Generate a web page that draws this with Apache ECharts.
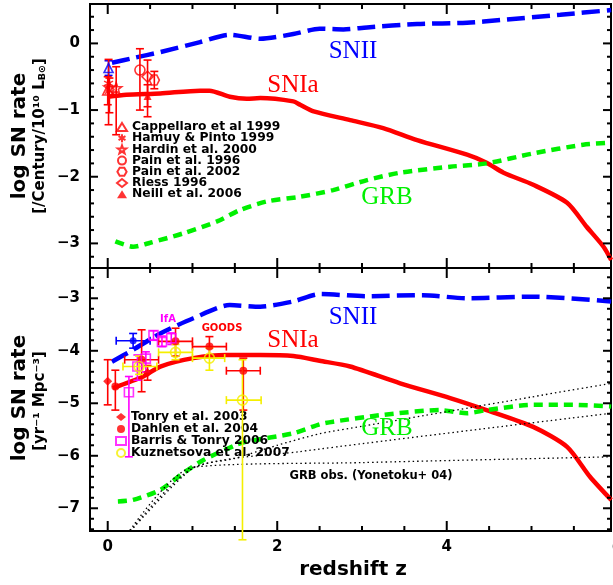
<!DOCTYPE html>
<html>
<head>
<meta charset="utf-8"/>
<title>SN rate vs redshift</title>
<style>
    html, body { margin: 0; padding: 0; background: #fff; }
    #chart { width: 613px; height: 585px; }
</style>
<script src="https://cdn.jsdelivr.net/npm/echarts@6/dist/echarts.min.js"></script>
</head>
<body>
<div id="chart"></div>
<script>
    // axis ranges
    var zMin = -0.209, zMax = 5.938;
    var topMin = -3.369, topMax = 0.591;
    var botMin = -7.433, botMax = -2.423;

    // tick positions
    var zMajor = [0, 2, 4];
    var zMinor = [0.5, 1, 1.5, 2.5, 3, 3.5, 4.5, 5, 5.5];
    var topMajor = [-3, -2, -1, 0];
    var topMinor = [-3.2, -2.8, -2.6, -2.4, -2.2, -1.8, -1.6, -1.4, -1.2, -0.8, -0.6, -0.4, -0.2, 0.2, 0.4];
    var botMajor = [-7, -6, -5, -4, -3];
    var botMinor = [-7.4, -7.2, -6.8, -6.6, -6.4, -6.2, -5.8, -5.6, -5.4, -5.2, -4.8, -4.6, -4.4, -4.2,
                    -3.8, -3.6, -3.4, -3.2, -2.8, -2.6];

    // model curves, top panel [z, log rate /century/1e10 LB]
    var snIITop = [[0.05,-0.29],[0.3,-0.22],[0.62,-0.13],[1.09,0.02],[1.44,0.13],[1.8,0.07],[2.19,0.14],
                   [2.5,0.22],[2.78,0.21],[3.06,0.24],[3.65,0.29],[4.24,0.31],[4.63,0.35],[5.34,0.43],[5.94,0.5]];
    var snIaTop = [[0.0,-0.8],[0.22,-0.77],[0.62,-0.75],[1.09,-0.71],[1.2,-0.71],[1.44,-0.8],[1.64,-0.83],
                   [1.8,-0.82],[2.19,-0.87],[2.27,-0.92],[2.43,-1.02],[2.86,-1.15],[3.25,-1.27],[3.65,-1.45],
                   [4.24,-1.67],[4.47,-1.79],[4.67,-1.94],[5.02,-2.12],[5.42,-2.39],[5.65,-2.75],[5.85,-3.05],[5.94,-3.25]];
    var grbTop = [[0.09,-2.97],[0.3,-3.05],[0.5,-2.99],[0.89,-2.85],[1.29,-2.67],[1.56,-2.5],[1.88,-2.37],
                  [2.27,-2.3],[2.66,-2.2],[3.06,-2.05],[3.45,-1.94],[4.04,-1.85],[4.47,-1.8],[5.02,-1.65],
                  [5.61,-1.52],[5.94,-1.49]];

    // model curves, bottom panel [z, log rate /yr/Mpc3]
    var snIIBot = [[0.05,-4.21],[0.3,-3.98],[0.62,-3.67],[1.01,-3.38],[1.44,-3.13],[1.8,-3.16],[2.19,-3.06],
                   [2.5,-2.92],[3.06,-2.96],[3.72,-2.94],[4.24,-3.0],[5.02,-2.97],[5.94,-3.06]];
    var snIaBot = [[0.06,-4.71],[0.42,-4.49],[0.62,-4.3],[1.01,-4.14],[1.4,-4.08],[1.8,-4.08],[2.19,-4.1],
                   [2.5,-4.19],[2.86,-4.3],[3.45,-4.62],[4.04,-4.9],[4.47,-5.13],[5.02,-5.45],[5.42,-5.83],
                   [5.69,-6.4],[5.94,-6.84]];
    var grbBot = [[0.12,-6.87],[0.3,-6.84],[0.62,-6.65],[0.89,-6.33],[1.13,-6.08],[1.52,-5.79],[1.64,-5.73],
                  [2.19,-5.57],[2.5,-5.4],[2.66,-5.35],[3.25,-5.22],[3.92,-5.13],[4.24,-5.19],[4.47,-5.13],
                  [5.02,-5.03],[5.5,-5.03],[5.94,-5.06]];
    var grbObsHigh = [[0.2,-7.56],[1.0,-6.24],[1.5,-6.05],[2.0,-5.8],[2.5,-5.58],[3.0,-5.44],[4.0,-5.16],[5.0,-4.88],[5.94,-4.62]];
    var grbObsMid = [[0.2,-7.56],[1.0,-6.24],[2.27,-5.92],[5.94,-5.19]];
    var grbObsLow = [[0.2,-7.56],[1.0,-6.22],[3.0,-6.13],[5.94,-6.02]];

    // observations [z, v, zlo, zhi, vlo, vhi]
    var cappellaroII = [[0.01,-0.37,0.01,0.01,-0.26,-0.48]];
    var cappellaro = [[0.0,-0.70,0.0,0.0,-0.50,-0.92]];
    var hamuy = [[0.01,-0.60,0.01,0.01,-0.24,-1.22]];
    var hardin = [[0.02,-0.66,0.02,0.02,-0.52,-1.04],[0.1,-0.67,0.1,0.1,-0.35,-1.37]];
    var pain96 = [[0.38,-0.40,0.38,0.38,-0.08,-1.0]];
    var pain02 = [[0.55,-0.55,0.55,0.55,-0.42,-0.68]];
    var riess = [[0.47,-0.50,0.47,0.47,-0.25,-1.10]];
    var neill = [[0.47,-0.79,0.47,0.47,-0.62,-0.95]];

    var dahlenII = [[0.3,-3.81,0.1,0.5,-3.67,-3.95]];
    var tonry = [[0.0,-4.58,0.0,0.0,-4.17,-5.03],[0.47,-4.42,0.47,0.47,-4.28,-4.56]];
    var dahlen = [[0.09,-4.68,0.09,0.09,-4.37,-5.13],[0.4,-4.17,0.2,0.6,-3.6,-4.78],[0.8,-3.82,0.6,1.0,-3.57,-4.1],
                  [1.2,-3.92,1.0,1.4,-3.73,-4.12],[1.6,-4.38,1.4,1.8,-4.14,-5.13]];
    var barris = [[0.25,-4.79,0.25,0.25,-4.49,-6.02],[0.35,-4.30,0.35,0.35,-4.08,-4.56],[0.45,-4.15,0.45,0.45,-4.02,-4.4],
                  [0.54,-3.70,0.54,0.54,-3.62,-3.8],[0.64,-3.83,0.64,0.64,-3.72,-3.92],[0.75,-3.76,0.75,0.75,-3.66,-3.88]];
    var kuznetsova = [[0.37,-4.30,0.18,0.58,-4.1,-4.45],[0.8,-4.03,0.6,1.0,-3.88,-4.17],
                      [1.2,-4.14,1.0,1.38,-3.95,-4.37],[1.59,-4.94,1.4,1.81,-4.17,-7.6]];

    var FONT = 'DejaVu Sans';
    var RED = '#ff0000', BLUE = '#0000ff', GREEN = '#00f000', MAG = '#ff00ff', YEL = '#f5ef00';
    var CLEAR = 'rgba(0,0,0,0)';

    function minus(v) { return v < 0 ? '\u2212' + (-v) : String(v); }

    function xAx(g, showLabels) {
        return {
            type: 'value', gridIndex: g, position: 'bottom', min: zMin, max: zMax,
            axisLine: { show: false, onZero: false }, splitLine: { show: false }, axisTick: { show: false },
            axisLabel: { show: showLabels, customValues: zMajor, margin: 9, fontFamily: FONT,
                         fontWeight: 'bold', fontSize: 15, color: '#000', formatter: minus }
        };
    }
    function yAx(g, major, min, max) {
        return {
            type: 'value', gridIndex: g, position: 'left', min: min, max: max,
            axisLine: { show: false, onZero: false }, splitLine: { show: false }, axisTick: { show: false },
            axisLabel: { show: true, customValues: major, margin: 10, fontFamily: FONT,
                         fontWeight: 'bold', fontSize: 15, color: '#000', formatter: minus }
        };
    }

    // tick marks on all four sides, placed through the axis scales
    function tickLine(x1, y1, x2, y2) {
        return { type: 'line', shape: { x1: x1, y1: y1, x2: x2, y2: y2 }, style: { stroke: '#000', lineWidth: 2 } };
    }
    function renderXTicks(params, api) {
        var cs = params.coordSys;
        var px = api.coord([api.value(0), api.value(1)])[0];
        var len = api.value(2);
        var b = cs.y + cs.height;
        return { type: 'group', children: [tickLine(px, b, px, b - len), tickLine(px, cs.y, px, cs.y + len)] };
    }
    function renderYTicks(params, api) {
        var cs = params.coordSys;
        var py = api.coord([api.value(0), api.value(1)])[1];
        var len = api.value(2);
        var r = cs.x + cs.width;
        return { type: 'group', children: [tickLine(cs.x, py, cs.x + len, py), tickLine(r, py, r - len, py)] };
    }
    function tickSeries(g, yMajor, yMinor, yRef) {
        var xRows = zMajor.map(function (z) { return [z, yRef, 10]; })
            .concat(zMinor.map(function (z) { return [z, yRef, 5]; }));
        var yRows = yMajor.map(function (v) { return [0, v, 8]; })
            .concat(yMinor.map(function (v) { return [0, v, 4]; }));
        return [
            { type: 'custom', xAxisIndex: g, yAxisIndex: g, data: xRows, renderItem: renderXTicks,
              clip: false, silent: true, z: 6 },
            { type: 'custom', xAxisIndex: g, yAxisIndex: g, data: yRows, renderItem: renderYTicks,
              clip: false, silent: true, z: 6 }
        ];
    }

    function curve(name, data, g, color, dash, width) {
        return {
            name: name, type: 'line', xAxisIndex: g, yAxisIndex: g, data: data,
            symbol: 'none', showSymbol: false, smooth: 0.25, silent: true, z: 3,
            lineStyle: { color: color, width: width, type: dash, cap: 'butt' }
        };
    }

    function renderErr(params, api) {
        var z = api.value(0), v = api.value(1);
        var zl = api.value(2), zh = api.value(3), vl = api.value(4), vh = api.value(5);
        var color = api.visual('color');
        var cs = params.coordSys;
        var c = 4;
        var kids = [];
        function seg(x1, y1, x2, y2) {
            kids.push({ type: 'line', shape: { x1: x1, y1: y1, x2: x2, y2: y2 },
                        style: { stroke: color, lineWidth: 1.6 } });
        }
        if (vl !== vh) {
            var a = api.coord([z, vh]), b = api.coord([z, vl]);
            seg(a[0], a[1], b[0], b[1]);
            seg(a[0] - c, a[1], a[0] + c, a[1]);
            if (b[1] <= cs.y + cs.height) seg(b[0] - c, b[1], b[0] + c, b[1]);
        }
        if (zl !== zh) {
            var l = api.coord([zl, v]), r = api.coord([zh, v]);
            seg(l[0], l[1], r[0], r[1]);
            seg(l[0], l[1] - c, l[0], l[1] + c);
            seg(r[0], r[1] - c, r[0], r[1] + c);
        }
        return { type: 'group', children: kids };
    }

    function errBars(rows, g, color) {
        return { type: 'custom', xAxisIndex: g, yAxisIndex: g, data: rows, renderItem: renderErr,
                 itemStyle: { color: color }, clip: false, silent: true, z: 4 };
    }

    function points(name, rows, g, symbol, size, fill, stroke) {
        return {
            name: name, type: 'scatter', xAxisIndex: g, yAxisIndex: g,
            data: rows.map(function (r) { return [r[0], r[1]]; }),
            symbol: symbol, symbolSize: size, silent: true, z: 5,
            itemStyle: { color: fill, borderColor: stroke, borderWidth: fill === CLEAR ? 1.6 : 0 }
        };
    }

    var STAR = 'path://M0,-10L2.35,-3.24L9.51,-3.09L3.8,1.24L5.88,8.09L0,4L-5.88,8.09L-3.8,1.24L-9.51,-3.09L-2.35,-3.24Z';
    var ASTER = 'path://M0,-10L0,10M-8.66,-5L8.66,5M-8.66,5L8.66,-5';
    var HEX = 'path://M10,0L5,8.66L-5,8.66L-10,0L-5,-8.66L5,-8.66Z';

    var series = [
        curve('SNII', snIITop, 0, BLUE, [18, 7], 4.5),
        curve('SNIa', snIaTop, 0, RED, 'solid', 4.5),
        curve('GRB', grbTop, 0, GREEN, [9, 6], 4.5),
        curve('SNII b', snIIBot, 1, BLUE, [18, 7], 4.5),
        curve('SNIa b', snIaBot, 1, RED, 'solid', 4.5),
        curve('GRB b', grbBot, 1, GREEN, [9, 6], 4.5),
        curve('obs1', grbObsHigh, 1, '#000', [1.5, 3], 1.3),
        curve('obs2', grbObsMid, 1, '#000', [1.5, 3], 1.3),
        curve('obs3', grbObsLow, 1, '#000', [1.5, 3], 1.3),

        errBars(cappellaroII, 0, BLUE),
        errBars(cappellaro, 0, RED),
        errBars(hamuy, 0, RED),
        errBars(hardin, 0, RED),
        errBars(pain96, 0, RED),
        errBars(pain02, 0, RED),
        errBars(riess, 0, RED),
        errBars(neill, 0, RED),
        points('SNII local', cappellaroII, 0, 'triangle', 9, CLEAR, BLUE),
        points('Cappellaro et al 1999', cappellaro, 0, 'triangle', 10, CLEAR, RED),
        points('Hamuy & Pinto 1999', hamuy, 0, ASTER, 9, CLEAR, RED),
        points('Hardin et al. 2000', hardin, 0, STAR, 11, CLEAR, RED),
        points('Pain et al. 1996', pain96, 0, 'circle', 10, CLEAR, RED),
        points('Pain et al. 2002', pain02, 0, HEX, 10, CLEAR, RED),
        points('Riess 1996', riess, 0, 'diamond', 11, CLEAR, RED),
        points('Neill et al. 2006', neill, 0, 'triangle', 8, RED, RED),

        errBars(dahlenII, 1, BLUE),
        errBars(tonry, 1, RED),
        errBars(dahlen, 1, RED),
        errBars(barris, 1, MAG),
        errBars(kuznetsova, 1, YEL),
        points('SNII Dahlen', dahlenII, 1, 'circle', 7, BLUE, BLUE),
        points('Tonry et al. 2003', tonry, 1, 'diamond', 9, RED, RED),
        points('Dahlen et al. 2004', dahlen, 1, 'circle', 8, RED, RED),
        points('Barris & Tonry 2006', barris, 1, 'rect', 9, CLEAR, MAG),
        points('Kuznetsova et al. 2007', kuznetsova, 1, 'circle', 10, CLEAR, YEL)
    ].concat(tickSeries(0, topMajor, topMinor, -1), tickSeries(1, botMajor, botMinor, -5));

    var legendText = { fontFamily: FONT, fontWeight: 'bold', fontSize: 12.3, color: '#000', lineHeight: 12 };

    function txt(x, y, text, size, color, weight, family, extra) {
        var o = {
            type: 'text', x: x, y: y, silent: true, z: 10,
            style: { text: text, fill: color, fontSize: size, fontWeight: weight, fontFamily: family,
                     align: 'center', verticalAlign: 'middle', textAlign: 'center', textVerticalAlign: 'middle' }
        };
        for (var k in extra) o[k] = extra[k];
        return o;
    }

    var SERIF = 'Liberation Serif';
    var graphics = [
        txt(353, 51, 'SNII', 25, BLUE, 'normal', SERIF),
        txt(293, 85, 'SNIa', 25, RED, 'normal', SERIF),
        txt(387, 197, 'GRB', 25, GREEN, 'normal', SERIF),
        txt(353, 317, 'SNII', 25, BLUE, 'normal', SERIF),
        txt(293, 340, 'SNIa', 25, RED, 'normal', SERIF),
        txt(387, 428, 'GRB', 25, GREEN, 'normal', SERIF),
        txt(168, 319, 'IfA', 10, MAG, 'bold', FONT),
        txt(222, 328, 'GOODS', 10, RED, 'bold', FONT),
        txt(371, 476, 'GRB obs. (Yonetoku+ 04)', 11.5, '#000', 'bold', FONT),
        txt(353, 570, 'redshift z', 20, '#000', 'bold', FONT),
        txt(617, 548, '6', 15, '#000', 'bold', FONT),
        txt(20, 136, 'log SN rate', 20, '#000', 'bold', FONT, { rotation: Math.PI / 2 }),
        {
            type: 'text', x: 40, y: 136, rotation: Math.PI / 2, silent: true, z: 10,
            style: { text: '[/Century/10\u00b9\u2070 L{s|B\u2299}]', fill: '#000', fontSize: 15, fontWeight: 'bold',
                     fontFamily: FONT, align: 'center', verticalAlign: 'middle',
                     textAlign: 'center', textVerticalAlign: 'middle',
                     rich: { s: { fontSize: 9.5, fontWeight: 'bold', fontFamily: FONT, fill: '#000',
                                  verticalAlign: 'bottom', padding: [6, 0, 0, 0] } } }
        },
        txt(20, 398, 'log SN rate', 20, '#000', 'bold', FONT, { rotation: Math.PI / 2 }),
        txt(40, 401, '[yr\u207b\u00b9 Mpc\u207b\u00b3]', 15, '#000', 'bold', FONT, { rotation: Math.PI / 2 })
    ];

    var chart = echarts.init(document.getElementById('chart'), null, { renderer: 'canvas' });
    chart.setOption({
        animation: false,
        backgroundColor: '#fff',
        grid: [
            { left: 90, top: 4, width: 521, height: 264, show: true, borderColor: '#000', borderWidth: 2,
              backgroundColor: CLEAR, containLabel: false },
            { left: 90, top: 268, width: 521, height: 263, show: true, borderColor: '#000', borderWidth: 2,
              backgroundColor: CLEAR, containLabel: false }
        ],
        xAxis: [xAx(0, false), xAx(1, true)],
        yAxis: [yAx(0, topMajor, topMin, topMax), yAx(1, botMajor, botMin, botMax)],
        legend: [
            { data: ['Cappellaro et al 1999', 'Hamuy & Pinto 1999', 'Hardin et al. 2000', 'Pain et al. 1996',
                     'Pain et al. 2002', 'Riess 1996', 'Neill et al. 2006'],
              orient: 'vertical', left: 116, top: 121, itemWidth: 10, itemHeight: 8, itemGap: -0.8,
              padding: 0, selectedMode: false, textStyle: legendText },
            { data: ['Tonry et al. 2003', 'Dahlen et al. 2004', 'Barris & Tonry 2006', 'Kuznetsova et al. 2007'],
              orient: 'vertical', left: 115, top: 411, itemWidth: 10, itemHeight: 8, itemGap: 0,
              padding: 0, selectedMode: false, textStyle: legendText }
        ],
        series: series,
        graphic: graphics
    });
</script>
</body>
</html>
